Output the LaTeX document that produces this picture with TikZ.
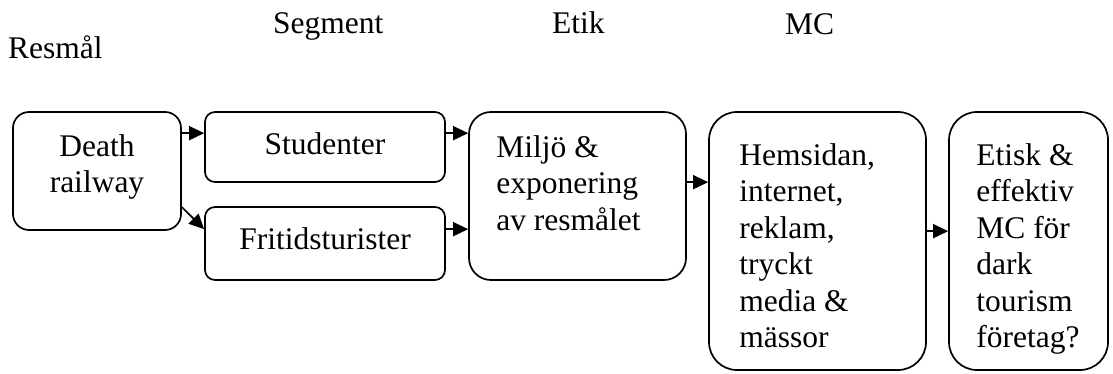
\documentclass[tikz,border=0pt]{standalone}
\usepackage{fontspec}
\setmainfont{Liberation Serif}
\usetikzlibrary{arrows.meta,calc}

\begin{document}
\begin{tikzpicture}[x=1pt,y=-1pt,
  box/.style={draw, line width=1.7pt, inner sep=0pt},
  txt/.style={inner sep=0pt, font=\fontsize{31.5}{36.5}\selectfont},
  arr/.style={line width=1.7pt, -{Triangle[length=15pt,width=14pt]}}]

\useasboundingbox (0,0) rectangle (1113,374);

% column headings
\node[txt, anchor=base west] (hres) at (8,59)   {Resmål};
\node[txt, anchor=base west] (hseg) at (273,34) {Segment};
\node[txt, anchor=base west] (heti) at (552,34) {Etik};
\node[txt, anchor=base west] (hmc)  at (785,35) {MC};

% boxes
\node[box, rounded corners=16pt, minimum width=168pt, minimum height=118pt] (death) at (97,171) {};
\node[box, rounded corners=10pt, minimum width=240pt, minimum height=70pt]  (stud)  at (325,147) {};
\node[box, rounded corners=10pt, minimum width=240pt, minimum height=73pt]  (frit)  at (325,243.5) {};
\node[box, rounded corners=22pt, minimum width=217pt, minimum height=168pt] (miljo) at (577.5,196) {};
\node[box, rounded corners=28pt, minimum width=217pt, minimum height=258pt] (hem)   at (817.5,241) {};
\node[box, rounded corners=28pt, minimum width=159pt, minimum height=258pt] (etik)  at (1028.5,241) {};

% box texts
\node[txt, align=center, anchor=north] (tdeath) at ($(death.north)+(0,19.45)$) {\strut Death\\railway};
\node[txt, anchor=base] (tstud) at ($(stud.north)+(0,43)$) {Studenter};
\node[txt, anchor=base] (tfrit) at ($(frit.north)+(0,43.5)$) {Fritidsturister};
\node[txt, align=left, anchor=north west] (tmiljo) at ($(miljo.north west)+(28,20.45)$)
  {\strut Miljö \&\\exponering\\av resmålet};
\node[txt, align=left, anchor=north west] (them) at ($(hem.north west)+(31,28.45)$)
  {\strut Hemsidan,\\internet,\\reklam,\\tryckt\\media \&\\mässor};
\node[txt, align=left, anchor=north west] (tetik) at ($(etik.north west)+(28,28.45)$)
  {\strut Etisk \&\\effektiv\\MC för\\dark\\tourism\\företag?};

% connectors
\draw[arr] ($(death.north east)+(0,22)$) coordinate (a1) -- (a1 -| stud.west);
\draw[arr] ($(death.north east)+(0,96)$) -- ($(frit.north west)+(0,23)$);
\draw[arr] ($(stud.north east)+(0,22)$) coordinate (a3) -- (a3 -| miljo.west);
\draw[arr] ($(frit.north east)+(0,23)$) coordinate (a4) -- (a4 -| miljo.west);
\draw[arr] ($(miljo.north east)+(0,71)$) coordinate (a5) -- (a5 -| hem.west);
\draw[arr] ($(hem.north east)+(0,120)$) coordinate (a6) -- (a6 -| etik.west);

\end{tikzpicture}
\end{document}
